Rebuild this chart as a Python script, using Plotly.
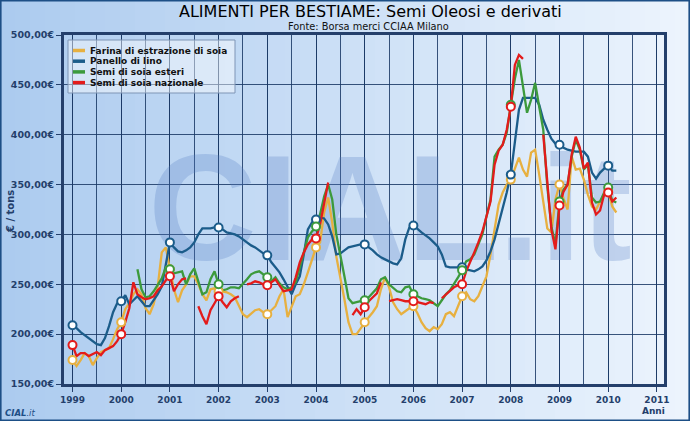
import plotly.graph_objects as go

# ---------------- data (monthly, Jan 1999 .. Mar 2010) ----------------
start_year = 1999
n_months = 135
N = None

farina = [
    174, 168, 174, 181, 178, 169, 176, 182, 184, 186, 195, 205,   # 1999
    212, 225, 231, 240, 245, 240, 226, 220, 230, 248, 282, 287,   # 2000
    265, 245, 232, 244, 250, 258, 258, 250, 240, 234, 245, 246,   # 2001
    243, 243, 242, 240, 237, 228, 220, 217, 221, 224, 225, 222,   # 2002
    220, 224, 228, 238, 245, 217, 228, 238, 240, 250, 262, 275,   # 2003
    287, 292, 322, 337, 312, 278, 258, 235, 212, 200, 200, 206,   # 2004
    212, 217, 222, 228, 245, 257, 247, 232, 225, 220, 223, 226,   # 2005
    228, 221, 212, 206, 203, 207, 205, 210, 220, 222, 218, 228,   # 2006
    238, 242, 235, 233, 238, 248, 258, 280, 305, 330, 342, 350,   # 2007
    355, 366, 377, 365, 358, 382, 385, 360, 335, 306, 302, 335,   # 2008
    350, 336, 325, 378, 365, 366, 355, 340, 328, 325, 333, 339,   # 2009
    343, 328, 322,                                                # 2010
]

panello = [
    209, 206, 202, 199, 196, 193, 190, 189, 196, 208, 222, 231,
    233, 239, 230, 234, 238, 233, 228, 228, 234, 240, 248, 270,
    292, 287, 283, 282, 284, 287, 292, 300, 306, 306, 306, 307,
    307, 305, 302, 301, 300, 298, 295, 292, 289, 287, 284, 281,
    279, 272, 267, 262, 255, 248, 240, 250, 258, 280, 305, 312,
    315, 317, 316, 310, 298, 280, 281, 284, 287, 288, 289, 290,
    290, 287, 284, 280, 277, 275, 273, 271, 270, 276, 295, 307,
    309, 305, 302, 299, 296, 292, 288, 280, 268, 267, 267, 267,
    267, 265, 264, 263, 265, 268, 274, 283, 295, 310, 325, 342,
    360, 393, 425, 437, 437, 437, 437, 430, 415, 405, 396, 391,
    390, 387, 385, 384, 383, 383, 383, 378, 362, 356, 362, 366,
    369, 364, 364,
]

soia_esteri = [
    N, N, N, N, N, N, N, N, N, N, N, N,
    N, N, N, N, 265, 245, 237, 238, 243, 250, 256, 267,
    265, 261, 262, 263, 250, 260, 266, 252, 240, 242, 255, 263,
    250, 244, 245, 247, 247, 246, 250, 255, 260, 262, 263, 260,
    257, 253, 257, 251, 247, 245, 247, 252, 268, 282, 297, 303,
    308, 320, 338, 350, 335, 300, 280, 258, 236, 231, 232, 233,
    234, 237, 241, 246, 255, 257, 250, 246, 243, 242, 247, 248,
    240, 238, 236, 235, 234, 231, 228, 234, 240, 244, 250, 257,
    264, 273, 275, 280, 290, 300, 318, 335, 378, 385, 390, 402,
    430, 456, 475, 450, 422, 435, 452, 428, 405, 348, 308, 290,
    333, 345, 350, 378, 395, 385, 365, 370, 337, 332, 333, 342,
    347, 334, 332,
]

soia_nazionale = [
    189, 178, 181, 181, 178, 180, 182, 179, 184, 186, 188, 193,
    200, 212, 226, 252, 240, 237, 235, 236, 238, 244, 248, 254,
    258, 243, 250, 255, 256, N, N, 228, 218, 210, 224, 231,
    238, 232, 227, 233, 236, 238, N, 250, 251, 253, 252, 250,
    249, 252, 255, 249, 243, 244, 245, 257, 272, 282, 290, 295,
    296, 310, 330, 352, N, N, N, N, N, 219, 225, 220,
    227, 233, 237, 241, 252, N, 233, 234, 235, 234, 233, 233,
    233, 232, 231, 230, 232, 231, N, 236, 240, 244, 247, 249,
    250, 263, 272, 282, 292, 303, 318, 333, 370, 384, 390, 405,
    428, 470, 480, 476, N, N, N, N, 400, 350, 305, 285,
    329, 343, 350, 380, 398, 387, 366, 372, 332, 320, 324, 340,
    342, 333, 337,
]

series_names = ["Farina di estrazione di soia", "Panello di lino",
                "Semi di soia esteri", "Semi di soia nazionale"]
series_colors = ["#E7B040", "#1B5C8A", "#3C9A3C", "#E31B1B"]
series_values = [farina, panello, soia_esteri, soia_nazionale]

year_ticks = list(range(1999, 2012))
y_ticks = [150, 200, 250, 300, 350, 400, 450, 500]
y_ticktext = ["%d,00€" % v for v in y_ticks]

t = [start_year + i / 12.0 for i in range(n_months)]

# ---------------- layout geometry ----------------
W, H = 690, 421
L, R, T, B = 64, 26, 35, 37
PW, PH = W - L - R, H - T - B
px_per_year = 48.7
x0 = 1999 - 8.5 / px_per_year
x1 = x0 + PW / px_per_year

def pxx(px):
    return (px - L) / PW

def pyy(py):
    return (H - B - py) / PH

NAVY = "#243f6b"
GRID = "rgba(25,55,100,0.85)"

fig = go.Figure()

# watermark (below lines)
fig.add_trace(go.Scatter(
    x=[x0 + (390 - L) / px_per_year], y=[150 + (H - B - 222) * 350 / PH],
    mode="text", text=["CIAL.it"], hoverinfo="skip", showlegend=False,
    textfont=dict(family="Liberation Sans", size=150, color="rgba(85,125,195,0.27)", weight="bold"),
    textposition="middle center"))

for name, col, vals in zip(series_names, series_colors, series_values):
    fig.add_trace(go.Scatter(x=t, y=vals, mode="lines", name=name,
                             line=dict(color=col, width=2.3), connectgaps=False,
                             showlegend=False))

for name, col, vals in zip(series_names, series_colors, series_values):
    mx = [t[i] for i in range(0, n_months, 12) if vals[i] is not None]
    my = [vals[i] for i in range(0, n_months, 12) if vals[i] is not None]
    fig.add_trace(go.Scatter(x=mx, y=my, mode="markers", showlegend=False,
                             marker=dict(symbol="circle", size=8, color="white",
                                         line=dict(color=col, width=2))))

shapes = []
# background gradient bands
nb = 46
c_left = (172, 203, 239)
c_right = (236, 244, 253)
for i in range(nb):
    f = i / (nb - 1)
    c = tuple(int(round(a + (b - a) * f)) for a, b in zip(c_left, c_right))
    shapes.append(dict(type="rect", xref="paper", yref="paper", layer="below",
                       x0=pxx(W * i / nb), x1=pxx(W * (i + 1) / nb) + 0.002,
                       y0=pyy(H), y1=pyy(0), line=dict(width=0),
                       fillcolor="rgb(%d,%d,%d)" % c))
# outer border
shapes.append(dict(type="rect", xref="paper", yref="paper", layer="above",
                   x0=pxx(0.8), x1=pxx(W - 0.8), y0=pyy(H - 0.8), y1=pyy(0.8),
                   line=dict(color="#1d4f86", width=1.6)))
# legend box
shapes.append(dict(type="rect", xref="paper", yref="paper", layer="above",
                   x0=pxx(68), x1=pxx(235), y0=pyy(93), y1=pyy(40),
                   line=dict(color="#7f95b5", width=1),
                   fillcolor="rgba(255,255,255,0.45)"))

annotations = []
row_y = [50.5, 61.2, 71.9, 82.6]
for name, col, ry in zip(series_names, series_colors, row_y):
    shapes.append(dict(type="line", xref="paper", yref="paper", layer="above",
                       x0=pxx(73), x1=pxx(85), y0=pyy(ry), y1=pyy(ry),
                       line=dict(color=col, width=3.5)))
    annotations.append(dict(xref="paper", yref="paper", x=pxx(88), y=pyy(ry),
                            xanchor="left", yanchor="middle", showarrow=False,
                            text="<b>%s</b>" % name,
                            font=dict(family="DejaVu Sans", size=9, color="#111111")))

annotations += [
    dict(xref="paper", yref="paper", x=pxx(370), y=pyy(12), xanchor="center", yanchor="middle",
         showarrow=False, text="ALIMENTI PER BESTIAME: Semi Oleosi e derivati",
         font=dict(family="DejaVu Sans", size=16, color="#000000")),
    dict(xref="paper", yref="paper", x=pxx(368), y=pyy(26), xanchor="center", yanchor="middle",
         showarrow=False, text="Fonte: Borsa merci CCIAA Milano",
         font=dict(family="DejaVu Sans", size=9.8, color="#111111")),
    dict(xref="paper", yref="paper", x=pxx(10), y=pyy(212), xanchor="center", yanchor="middle",
         showarrow=False, text="<b>€ / tons</b>", textangle=-90,
         font=dict(family="DejaVu Sans", size=10, color=NAVY)),
    dict(xref="paper", yref="paper", x=pxx(667), y=pyy(411), xanchor="right", yanchor="middle",
         showarrow=False, text="<b>Anni</b>",
         font=dict(family="DejaVu Sans", size=9, color=NAVY)),
    dict(xref="paper", yref="paper", x=pxx(3), y=pyy(413), xanchor="left", yanchor="middle",
         showarrow=False, text="<b><i>CIAL</i></b><i>.it</i>",
         font=dict(family="DejaVu Sans", size=8.5, color="#1d4f86")),
]

fig.update_layout(
    width=W, height=H, margin=dict(l=L, r=R, t=T, b=B, autoexpand=False),
    paper_bgcolor="#dbe9f8", plot_bgcolor="rgba(0,0,0,0)",
    shapes=shapes, annotations=annotations, showlegend=False,
    xaxis=dict(range=[x0, x1], tickvals=year_ticks, ticktext=[str(y) for y in year_ticks],
               showgrid=True, gridcolor=GRID, gridwidth=1, automargin=False,
               minor=dict(dtick=0.5, tick0=1999, showgrid=True, gridcolor=GRID, gridwidth=1),
               ticks="outside", ticklen=5, tickcolor=NAVY, tickwidth=1,
               showline=True, linecolor=NAVY, linewidth=3, mirror=True,
               zeroline=False,
               tickfont=dict(family="DejaVu Sans", size=9, color=NAVY, weight="bold")),
    yaxis=dict(range=[150, 500], tickvals=y_ticks, ticktext=y_ticktext,
               showgrid=True, gridcolor=GRID, gridwidth=1, automargin=False,
               ticks="outside", ticklen=5, tickcolor=NAVY, tickwidth=1,
               showline=True, linecolor=NAVY, linewidth=3, mirror=True,
               zeroline=False,
               tickfont=dict(family="DejaVu Sans", size=9.5, color=NAVY, weight="bold")),
)

fig.write_html("out.html")
